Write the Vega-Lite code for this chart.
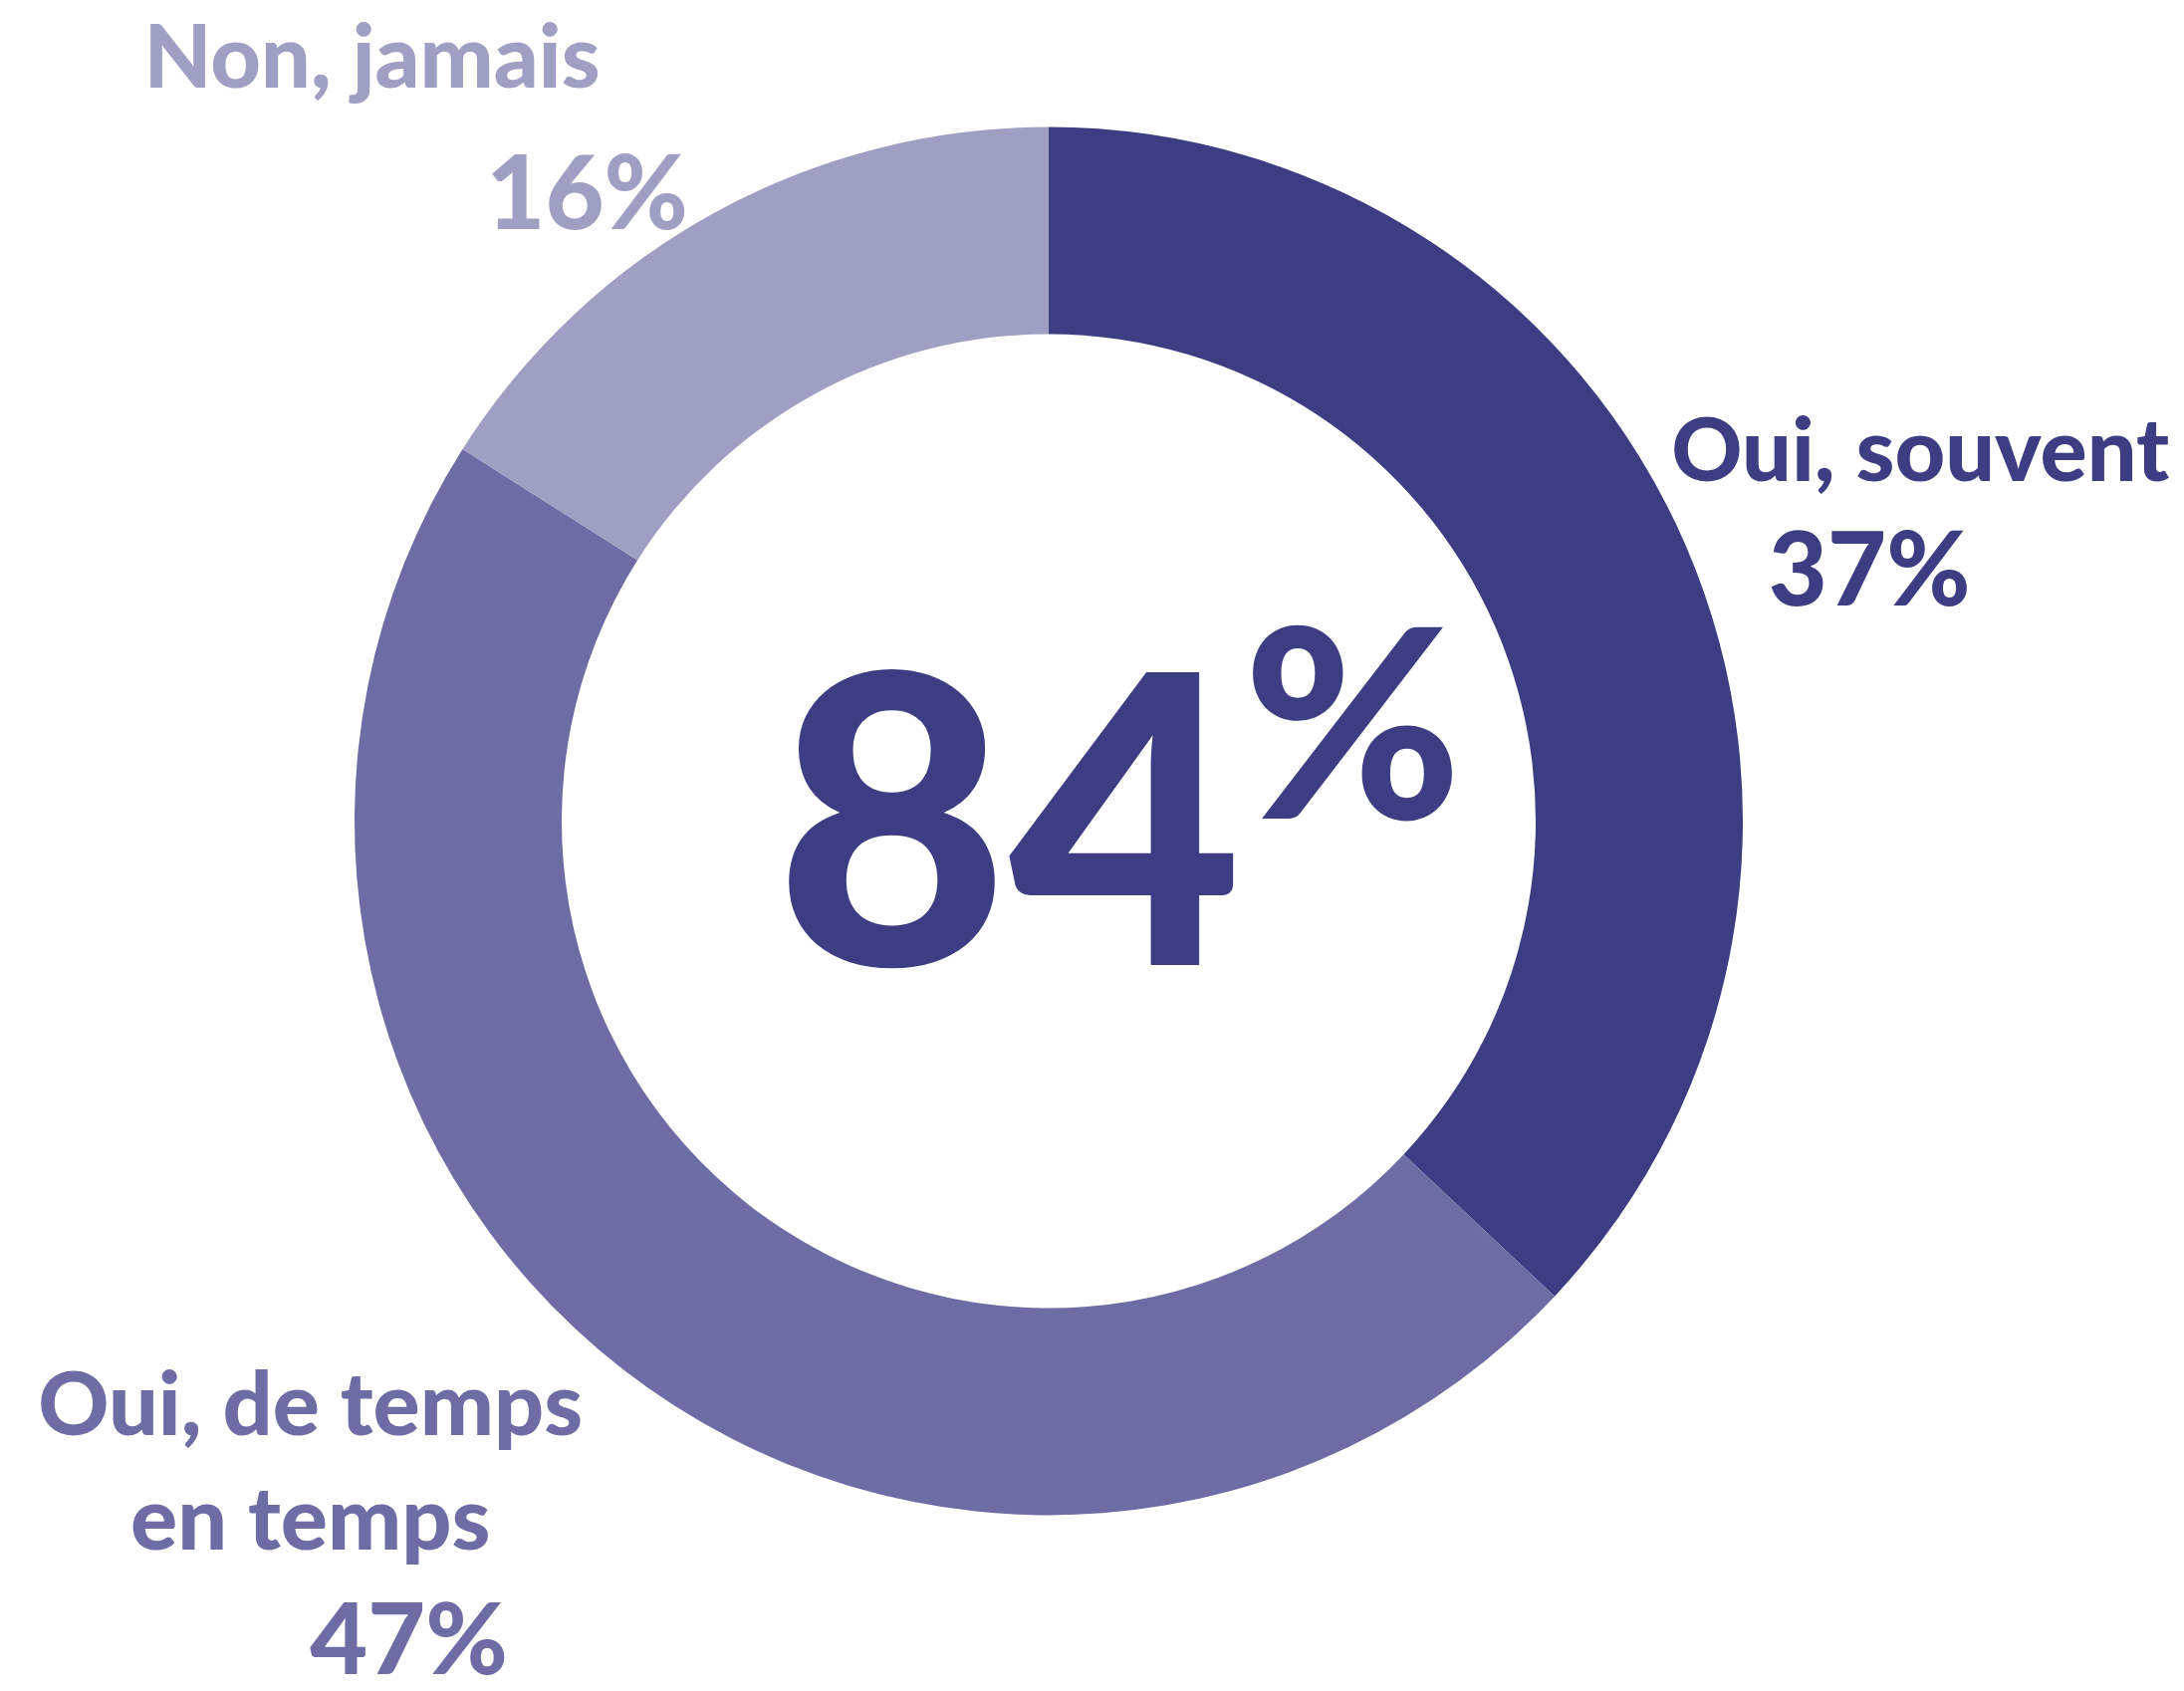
{
  "$schema": "https://vega.github.io/schema/vega-lite/v6.json",
  "width": 2106,
  "height": 1649,
  "padding": 0,
  "autosize": {"type": "pad"},
  "background": "white",
  "config": {"view": {"stroke": null}, "text": {"font": "Lato"}},
  "data": {
    "values": [
      {"reponse": "Oui, souvent", "part": 0.37, "ordre": 1},
      {"reponse": "Oui, de temps\nen temps", "part": 0.47, "ordre": 2},
      {"reponse": "Non, jamais", "part": 0.16, "ordre": 3}
    ]
  },
  "layer": [
    {
      "mark": {"type": "arc", "outerRadius": 697, "innerRadius": 489},
      "encoding": {
        "theta": {"field": "part", "type": "quantitative", "stack": true},
        "order": {"field": "ordre", "type": "quantitative"},
        "color": {"field": "reponse", "type": "nominal", "legend": null,
          "scale": {"domain": ["Oui, souvent", "Oui, de temps\nen temps", "Non, jamais"], "range": ["#3D3D84", "#6D6CA5", "#9F9EC3"]}}
      }
    },
    {
      "mark": {"type": "text", "radius": 800, "dx": 141, "dy": -24, "fontSize": 88, "fontWeight": 900, "baseline": "alphabetic", "align": "center", "lineBreak": "\n", "lineHeight": 115},
      "encoding": {
        "theta": {"field": "part", "type": "quantitative", "stack": true},
        "order": {"field": "ordre", "type": "quantitative"},
        "color": {"field": "reponse", "type": "nominal", "legend": null},
        "text": {"condition": {"test": "datum.ordre === 1", "field": "reponse", "type": "nominal"}, "value": ""}
      }
    },
    {
      "mark": {"type": "text", "radius": 800, "dx": 90, "dy": 101, "fontSize": 102, "fontWeight": 900, "baseline": "alphabetic", "align": "center"},
      "encoding": {
        "theta": {"field": "part", "type": "quantitative", "stack": true},
        "order": {"field": "ordre", "type": "quantitative"},
        "color": {"field": "reponse", "type": "nominal", "legend": null},
        "text": {"condition": {"test": "datum.ordre === 1", "field": "part", "type": "quantitative", "format": ".0%"}, "value": ""}
      }
    },
    {
      "mark": {"type": "text", "radius": 800, "dx": -251, "dy": -16, "fontSize": 88, "fontWeight": 900, "baseline": "alphabetic", "align": "center", "lineBreak": "\n", "lineHeight": 115},
      "encoding": {
        "theta": {"field": "part", "type": "quantitative", "stack": true},
        "order": {"field": "ordre", "type": "quantitative"},
        "color": {"field": "reponse", "type": "nominal", "legend": null},
        "text": {"condition": {"test": "datum.ordre === 2", "field": "reponse", "type": "nominal"}, "value": ""}
      }
    },
    {
      "mark": {"type": "text", "radius": 800, "dx": -152, "dy": 224, "fontSize": 100, "fontWeight": 900, "baseline": "alphabetic", "align": "center"},
      "encoding": {
        "theta": {"field": "part", "type": "quantitative", "stack": true},
        "order": {"field": "ordre", "type": "quantitative"},
        "color": {"field": "reponse", "type": "nominal", "legend": null},
        "text": {"condition": {"test": "datum.ordre === 2", "field": "part", "type": "quantitative", "format": ".0%"}, "value": ""}
      }
    },
    {
      "mark": {"type": "text", "radius": 800, "dx": -294, "dy": -35.5, "fontSize": 88, "fontWeight": 900, "baseline": "alphabetic", "align": "center", "lineBreak": "\n", "lineHeight": 115},
      "encoding": {
        "theta": {"field": "part", "type": "quantitative", "stack": true},
        "order": {"field": "ordre", "type": "quantitative"},
        "color": {"field": "reponse", "type": "nominal", "legend": null},
        "text": {"condition": {"test": "datum.ordre === 3", "field": "reponse", "type": "nominal"}, "value": ""}
      }
    },
    {
      "mark": {"type": "text", "radius": 800, "dx": -78, "dy": 106.5, "fontSize": 102, "fontWeight": 900, "baseline": "alphabetic", "align": "center"},
      "encoding": {
        "theta": {"field": "part", "type": "quantitative", "stack": true},
        "order": {"field": "ordre", "type": "quantitative"},
        "color": {"field": "reponse", "type": "nominal", "legend": null},
        "text": {"condition": {"test": "datum.ordre === 3", "field": "part", "type": "quantitative", "format": ".0%"}, "value": ""}
      }
    },
    {
      "transform": [
        {"filter": "datum.ordre <= 2"},
        {"aggregate": [{"op": "sum", "field": "part", "as": "total"}]},
        {"calculate": "round(datum.total * 100)", "as": "oui"}
      ],
      "mark": {"type": "text", "fontSize": 405, "fontWeight": 900, "baseline": "alphabetic", "align": "center", "dx": -40, "dy": 144.5, "color": "#3D3D84"},
      "encoding": {"text": {"field": "oui", "type": "quantitative", "format": "d"}}
    },
    {
      "transform": [
        {"filter": "datum.ordre <= 2"},
        {"aggregate": [{"op": "sum", "field": "part", "as": "total"}]}
      ],
      "mark": {"type": "text", "fontSize": 265, "fontWeight": 900, "baseline": "alphabetic", "align": "center", "dx": 305, "dy": -2.5, "color": "#3D3D84"},
      "encoding": {"text": {"value": "%"}}
    }
  ]
}
